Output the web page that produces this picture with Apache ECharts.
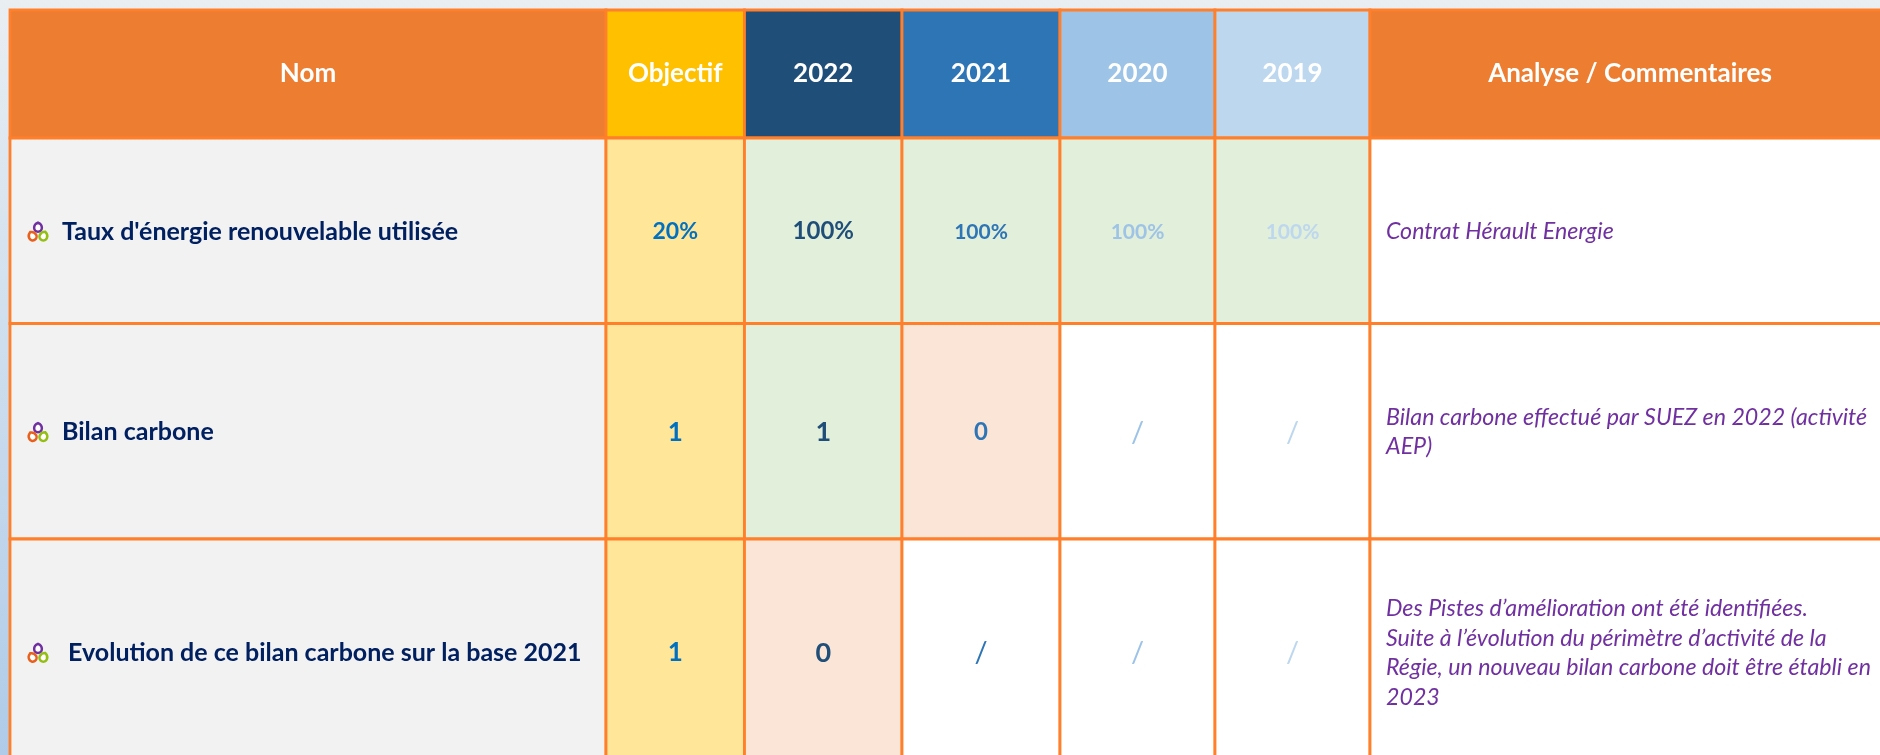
<!DOCTYPE html>
<html>
<head>
<meta charset="utf-8">
<title>Indicateurs</title>
<script src="https://cdn.jsdelivr.net/npm/echarts@6/dist/echarts.min.js"></script>
<style>
  html, body { margin: 0; padding: 0; background: #fff; }
  #chart { width: 1880px; height: 755px; }
</style>
</head>
<body>
<div id="chart"></div>
<script>
// contenu du tableau
const headers = ['Nom', 'Objectif', '2022', '2021', '2020', '2019', 'Analyse / Commentaires'];
const noms = ["Taux d'énergie renouvelable utilisée", 'Bilan carbone', ' Evolution de ce bilan carbone sur la base 2021'];
const objectif = ['20%', '1', '1'];
const v2022 = ['100%', '1', '0'];
const v2021 = ['100%', '0', '/'];
const v2020 = ['100%', '/', '/'];
const v2019 = ['100%', '/', '/'];
const commentaires = [
  'Contrat Hérault Energie',
  'Bilan carbone effectué par SUEZ en 2022 (activité\nAEP)',
  'Des Pistes d’amélioration ont été identifiées.\nSuite à l’évolution du périmètre d’activité de la\nRégie, un nouveau bilan carbone doit être établi en\n2023'
];

// grille du tableau, bords des colonnes et lignes
const colEdges = [10, 606, 744.5, 902, 1060, 1215, 1370, 1890];
const rowEdges = [10, 138, 323.5, 539, 765];

const headerFill = ['#ED7D31', '#FFC000', '#1F4E79', '#2E75B6', '#9DC3E6', '#BDD7EE', '#ED7D31'];
const valueColor = ['#002060', '#0070C0', '#1F4E79', '#2E75B6', '#9DC3E6', '#BDD7EE', '#7030A0'];
const valueSize = [25, 23, 24, 21, 21, 21, 23.2];
const borderColor = '#FF7F2A';

const anneeCols = [v2022, v2021, v2020, v2019];

// vert si objectif atteint, rouge sinon, blanc si pas de donnee
function statusFill(value, target) {
  if (value === '/') return '#FFFFFF';
  return parseFloat(value) >= parseFloat(target) ? '#E2EFDA' : '#FBE5D6';
}

function cellFill(row, col) {
  if (row === 0) return headerFill[col];
  if (col === 0) return '#F2F2F2';
  if (col === 1) return '#FFE699';
  if (col === 6) return '#FFFFFF';
  return statusFill(anneeCols[col - 2][row - 1], objectif[row - 1]);
}

function cellText(row, col) {
  if (row === 0) return headers[col];
  if (col === 0) return noms[row - 1];
  if (col === 1) return objectif[row - 1];
  if (col === 6) return commentaires[row - 1];
  return anneeCols[col - 2][row - 1];
}

const cells = [];
for (let r = 0; r <= noms.length; r++) {
  for (let c = 0; c < headers.length; c++) {
    cells.push([r, c]);
  }
}

const drop = 'M0 -5 C2.5 -4 4.5 -1.5 4.5 1 A4.5 4.5 0 1 1 -4.5 1 C-4.5 -1.5 -2.5 -4 0 -5 Z';

function dropIcon(cx, cy) {
  const items = [[0, -4.6, '#7030A0', 0], [-5.6, 4.2, '#E8601C', 0.5], [5.6, 4.2, '#95BE14', -0.4]];
  return items.map(function (d) {
    return {
      type: 'path',
      x: cx + d[0],
      y: cy + d[1],
      rotation: d[3],
      shape: { pathData: drop, x: -4, y: -4.5, width: 8, height: 9 },
      style: { fill: '#FFFFFF', stroke: d[2], lineWidth: 2.5 }
    };
  });
}

function renderCell(params, api) {
  const row = api.value(0);
  const col = api.value(1);
  const p0 = api.coord([colEdges[col], rowEdges[row]]);
  const p1 = api.coord([colEdges[col + 1], rowEdges[row + 1]]);
  const midY = (p0[1] + p1[1]) / 2 + (row === 0 ? 0 : 1);
  const label = cellText(row, col);
  const children = [{
    type: 'rect',
    shape: { x: p0[0], y: p0[1], width: p1[0] - p0[0], height: p1[1] - p0[1] },
    style: { fill: cellFill(row, col), stroke: borderColor, lineWidth: 2.8 }
  }];
  let text = {
    type: 'text',
    x: (p0[0] + p1[0]) / 2,
    y: midY,
    style: {
      text: label,
      fill: '#FFFFFF',
      font: 'bold 26px Lato',
      textAlign: 'center',
      textVerticalAlign: 'middle'
    }
  };
  if (row > 0) {
    text.style.fill = valueColor[col];
    // les chiffres seuls sont un peu plus grands que les pourcentages
    const size = label.length === 1 && col < 6 ? valueSize[col] + 3 : valueSize[col];
    text.style.font = 'bold ' + size + 'px Lato';
    if (label === '/') {
      text.style.font = 'normal 29px Lato';
    }
    if (col === 0) {
      text.x = p0[0] + 52;
      text.style.textAlign = 'left';
      children.push.apply(children, dropIcon(p0[0] + 28, midY));
    }
    if (col === 6) {
      text.x = p0[0] + 16;
      text.style.textAlign = 'left';
      text.style.font = 'italic ' + valueSize[col] + 'px Lato';
      text.style.lineHeight = 29.5;
    }
  }
  children.push(text);
  return { type: 'group', children: children };
}

const chart = echarts.init(document.getElementById('chart'));
chart.setOption({
  animation: false,
  backgroundColor: {
    type: 'linear', x: 0, y: 0, x2: 0, y2: 1,
    colorStops: [{ offset: 0, color: '#E9EEF2' }, { offset: 1, color: '#AFCBE8' }]
  },
  grid: { left: 0, right: 0, top: 0, bottom: 0 },
  xAxis: { type: 'value', min: 0, max: 1880, show: false },
  yAxis: { type: 'value', min: 0, max: 755, inverse: true, show: false },
  series: [{
    type: 'custom',
    coordinateSystem: 'cartesian2d',
    clip: false,
    silent: true,
    data: cells,
    renderItem: renderCell
  }]
});
</script>
</body>
</html>
